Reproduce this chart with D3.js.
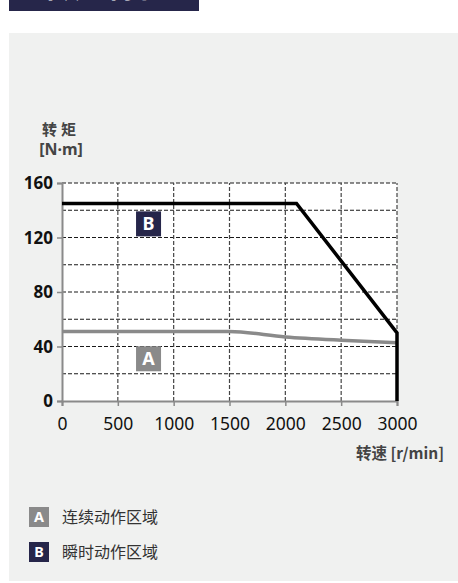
<!DOCTYPE html>
<html>
<head>
<meta charset="utf-8">
<script src="https://cdn.jsdelivr.net/npm/d3@7"></script>
<style>
  body { margin: 0; background: #fff; }
  svg { display: block; font-family: "Noto Sans CJK SC", "Noto Sans", sans-serif; }
</style>
</head>
<body>
<svg id="chart" width="458" height="583"></svg>
<script>
// speed [r/min] vs torque [N·m]
const speedTicks  = [0, 500, 1000, 1500, 2000, 2500, 3000];
const torqueTicks = [0, 40, 80, 120, 160];
const gridTorque  = [20, 40, 60, 80, 100, 120, 140, 160];

const peakSpeed   = [0, 2100, 3000, 3000];
const peakTorque  = [145, 145, 50, 0];

const ratedSpeed  = [0, 1500, 2000, 2500, 3000];
const ratedTorque = [51, 51, 47, 44.6, 42.8];

const zoneLabels  = ["A", "B"];
const zoneNames   = ["连续动作区域", "瞬时动作区域"];
const zoneAt      = [[775, 31], [775, 130]];

const navy = "#26264a";
const grey = "#8a8a8a";

const svg = d3.select("#chart");

// title strip, cut off at the top like the original
svg.append("rect").attr("x", 9).attr("y", 0).attr("width", 190).attr("height", 11).attr("fill", navy);
svg.append("text")
    .attr("x", 106).attr("y", -3)
    .attr("text-anchor", "middle")
    .attr("fill", "#fff")
    .attr("font-size", 30)
    .attr("font-weight", 700)
    .attr("letter-spacing", 2)
    .text("转矩特性");

// grey panel
svg.append("rect").attr("x", 9).attr("y", 33).attr("width", 449).attr("height", 548).attr("fill", "#f0f1f0");

const x = d3.scaleLinear().domain([0, 3000]).range([62, 397]);
const y = d3.scaleLinear().domain([0, 160]).range([401, 183]);

svg.append("rect")
    .attr("x", x(0)).attr("y", y(160))
    .attr("width", x(3000) - x(0)).attr("height", y(0) - y(160))
    .attr("fill", "#fff");

// dashed grid
const grid = svg.append("g").attr("stroke", "#1a1a1a").attr("stroke-width", 1.2).attr("stroke-dasharray", "4,2");
grid.selectAll("line.h").data(gridTorque).join("line")
    .attr("x1", x(0)).attr("x2", x(3000))
    .attr("y1", d => y(d)).attr("y2", d => y(d));
grid.selectAll("line.v").data(speedTicks.slice(1)).join("line")
    .attr("x1", d => x(d)).attr("x2", d => x(d))
    .attr("y1", y(0)).attr("y2", y(160))
    .attr("stroke", "#444");

// axes
const xAxis = svg.append("g")
    .attr("transform", "translate(0," + y(0) + ")")
    .call(d3.axisBottom(x).tickValues(speedTicks).tickSize(5).tickPadding(12).tickFormat(d3.format("d")));
const yAxis = svg.append("g")
    .attr("transform", "translate(" + x(0) + ",0)")
    .call(d3.axisLeft(y).tickValues(torqueTicks).tickSize(5).tickPadding(4));

[xAxis, yAxis].forEach(a => {
    a.select(".domain").attr("stroke", grey).attr("stroke-width", 2);
    a.selectAll(".tick line").attr("stroke", grey).attr("stroke-width", 1.5);
    a.selectAll("text").attr("fill", "#111").attr("font-size", 17.5)
        .attr("font-family", "'Noto Sans', sans-serif");
});
yAxis.selectAll("text").attr("font-weight", 700).attr("font-size", 17).attr("dy", "0.35em");

// curves
const line = d3.line().x(d => x(d[0])).y(d => y(d[1]));
svg.append("path")
    .datum(ratedSpeed.map((s, i) => [s, ratedTorque[i]]))
    .attr("d", line.curve(d3.curveMonotoneX))
    .attr("fill", "none").attr("stroke", grey).attr("stroke-width", 3.5);
svg.append("path")
    .attr("d", d3.line().x(d => x(d[0])).y(d => y(d[1]))(peakSpeed.map((s, i) => [s, peakTorque[i]])))
    .attr("fill", "none").attr("stroke", "#000").attr("stroke-width", 3.5)
    .attr("stroke-linejoin", "miter");

// zone tags
function tag(g, cx, cy, size, label) {
    g.append("rect")
        .attr("x", cx - size / 2).attr("y", cy - size / 2)
        .attr("width", size).attr("height", size)
        .attr("fill", label === "A" ? grey : navy);
    g.append("text")
        .attr("x", cx).attr("y", cy).attr("dy", "0.36em")
        .attr("text-anchor", "middle")
        .attr("fill", "#fff").attr("font-weight", 700)
        .attr("font-size", size * 0.72)
        .attr("font-family", "'Noto Sans', sans-serif")
        .text(label);
}
zoneLabels.forEach((l, i) => tag(svg, x(zoneAt[i][0]), y(zoneAt[i][1]), 25, l));

// axis titles
const yt = svg.append("g").attr("fill", "#444").attr("font-weight", 700).attr("text-anchor", "middle");
yt.append("text").attr("x", 61).attr("y", 135).attr("font-size", 15).attr("letter-spacing", 4).text("转矩");
yt.append("text").attr("x", 61).attr("y", 155).attr("font-size", 16)
    .attr("font-family", "'Noto Sans', sans-serif").text("[N·m]");
svg.append("text")
    .attr("x", 444).attr("y", 459)
    .attr("text-anchor", "end")
    .attr("fill", "#444").attr("font-weight", 700).attr("font-size", 15.5)
    .text("转速 [r/min]");

// legend
const legend = svg.append("g");
zoneLabels.forEach((l, i) => {
    const cy = 517 + i * 35;
    tag(legend, 39, cy, 20, l);
    legend.append("text")
        .attr("x", 62).attr("y", cy).attr("dy", "0.35em")
        .attr("fill", "#333").attr("font-size", 16)
        .text(zoneNames[i]);
});
</script>
</body>
</html>
